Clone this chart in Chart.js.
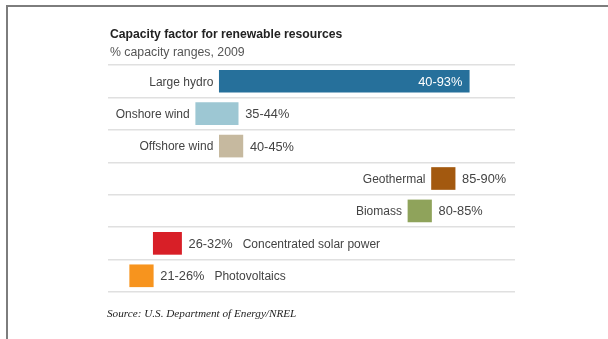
<!DOCTYPE html>
<html>
<head>
<meta charset="utf-8">
<title>Capacity factor for renewable resources</title>
<script src="https://cdn.jsdelivr.net/npm/chart.js@4"></script>
<style>
  html, body { margin: 0; padding: 0; background: #fff; }
  #wrap { position: relative; width: 608px; height: 339px; }
  #frame {
    position: absolute; left: 6px; top: 5px; right: 0; bottom: 0;
    border-top: 2px solid #7d7d7d; border-left: 2px solid #7d7d7d;
    pointer-events: none;
  }
</style>
</head>
<body>
<div id="wrap">
  <canvas id="capacityChart" width="608" height="339"></canvas>
  <div id="frame"></div>
</div>
<script>
const categories = ["Large hydro", "Onshore wind", "Offshore wind", "Geothermal", "Biomass", "Concentrated solar power", "Photovoltaics"];
const lowValues = [40, 35, 40, 85, 80, 26, 21];
const highValues = [93, 44, 45, 90, 85, 32, 26];
const barColors = ["#26709b", "#9dc7d3", "#c6b99f", "#a3590f", "#8fa35b", "#d81f27", "#f7941e"];

// where the name sits relative to the bar / value label
const namePlace = ["left", "left", "left", "left", "left", "after", "after"];
const valueInside = [true, false, false, false, false, false, false];

const FONT = "'Liberation Sans', Arial, sans-serif";

const textPlugin = {
  id: "textPlugin",
  afterDraw(chart) {
    const ctx = chart.ctx;
    const meta = chart.getDatasetMeta(0);
    ctx.save();

    // headings
    ctx.textAlign = "left";
    ctx.textBaseline = "alphabetic";
    ctx.fillStyle = "#222";
    ctx.font = "bold 12.2px " + FONT;
    ctx.fillText("Capacity factor for renewable resources", 110, 38);
    ctx.fillStyle = "#555";
    ctx.font = "12.3px " + FONT;
    ctx.fillText("% capacity ranges, 2009", 110, 56);
    ctx.fillStyle = "#222";
    ctx.font = "italic 11.2px 'Liberation Serif', 'Times New Roman', serif";
    ctx.fillText("Source: U.S. Department of Energy/NREL", 107, 317);

    // row labels
    ctx.textBaseline = "middle";
    meta.data.forEach((bar, i) => {
      const left = Math.min(bar.x, bar.base);
      const right = Math.max(bar.x, bar.base);
      const y = bar.y + 1;
      const valueText = lowValues[i] + "-" + highValues[i] + "%";

      ctx.font = "12.8px " + FONT;
      let valueEnd;
      if (valueInside[i]) {
        ctx.fillStyle = "#fff";
        ctx.textAlign = "right";
        ctx.fillText(valueText, right - 7, y);
        valueEnd = right;
      } else {
        ctx.fillStyle = "#444";
        ctx.textAlign = "left";
        ctx.fillText(valueText, right + 7, y);
        valueEnd = right + 7 + ctx.measureText(valueText).width;
      }

      ctx.font = "12px " + FONT;
      ctx.fillStyle = "#444";
      if (namePlace[i] === "left") {
        ctx.textAlign = "right";
        ctx.fillText(categories[i], left - 6, y);
      } else {
        ctx.textAlign = "left";
        ctx.fillText(categories[i], valueEnd + 10, y);
      }
    });
    ctx.restore();
  }
};

const ctx = document.getElementById("capacityChart").getContext("2d");

new Chart(ctx, {
  type: "bar",
  data: {
    labels: categories,
    datasets: [
      {
        data: categories.map((c, i) => [lowValues[i], highValues[i]]),
        backgroundColor: barColors,
        borderWidth: 0,
        barThickness: 22,
      },
    ],
  },
  options: {
    indexAxis: "y",
    responsive: false,
    animation: false,
    layout: {
      padding: { left: 108, right: 93, top: 65, bottom: 47 },
    },
    scales: {
      x: {
        display: false,
        min: 16.4,
        max: 102.7,
      },
      y: {
        display: true,
        offset: true,
        ticks: { display: false },
        border: { display: false },
        grid: {
          offset: true,
          drawTicks: false,
          tickLength: 0,
          color: "#e0e0e0",
          lineWidth: 1.5,
        },
      },
    },
    plugins: {
      legend: { display: false },
      tooltip: { enabled: false },
    },
  },
  plugins: [textPlugin],
});
</script>
</body>
</html>
